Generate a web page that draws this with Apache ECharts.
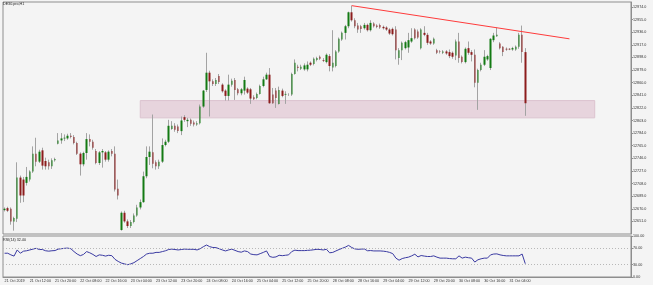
<!DOCTYPE html>
<html><head><meta charset="utf-8">
<script src="https://cdn.jsdelivr.net/npm/echarts@6/dist/echarts.min.js"></script>
<style>html,body{margin:0;padding:0;background:#f4f4f4}#c{width:653px;height:285px}</style>
</head><body><div id="c"></div>
<script>
const symbolLabel = 'DE30.pro,H1';
const rsiLabel = 'RSI(14) 32.40';
const xTickLabels = ['21 Oct 2019','21 Oct 12:00','21 Oct 20:00','22 Oct 08:00','22 Oct 16:00','23 Oct 04:00','23 Oct 12:00','23 Oct 20:00','24 Oct 08:00','24 Oct 16:00','25 Oct 04:00','25 Oct 12:00','25 Oct 20:00','28 Oct 08:00','28 Oct 16:00','29 Oct 04:00','29 Oct 12:00','29 Oct 20:00','30 Oct 08:00','30 Oct 16:00','31 Oct 04:00'];
const priceTicks = [12651,12670,12689,12708,12727,12746,12765,12784,12803,12822,12841,12860,12879,12898,12917,12936,12955,12974];
const rsiTicks = [0,30,70,100];
const rsiLevels = [70,30];
const open = [12668,12671,12670,12651,12655,12717,12714,12709,12714,12726,12753,12741,12758,12742,12740,12734,12743,12768,12773,12776,12776,12780,12778,12769,12753,12737,12754,12775,12771,12757,12739,12755,12755,12744,12757,12753,12700,12638,12664,12651,12644,12650,12660,12672,12680,12719,12748,12755,12740,12734,12741,12766,12771,12790,12795,12794,12787,12808,12802,12804,12800,12797,12799,12824,12849,12875,12862,12858,12870,12857,12848,12840,12857,12864,12850,12844,12848,12851,12850,12838,12837,12843,12855,12865,12872,12842,12848,12828,12848,12842,12842,12842,12873,12884,12881,12880,12880,12890,12888,12894,12899,12894,12891,12900,12883,12885,12907,12925,12935,12945,12966,12954,12946,12945,12942,12947,12939,12949,12946,12947,12944,12943,12940,12941,12940,12897,12909,12912,12913,12922,12940,12937,12912,12935,12932,12922,12919,12909,12907,12905,12907,12906,12905,12901,12922,12899,12891,12912,12906,12902,12860,12879,12887,12895,12882,12924,12930,12919,12914,12911,12911,12910,12910,12914,12932,12906];
const close = [12670,12667,12651,12656,12717,12690,12690,12718,12726,12753,12741,12756,12735,12734,12734,12743,12745,12773,12776,12777,12780,12778,12769,12753,12737,12754,12775,12771,12762,12739,12755,12757,12744,12756,12753,12699,12690,12664,12651,12644,12650,12660,12672,12680,12719,12748,12756,12738,12734,12741,12766,12771,12795,12795,12789,12787,12803,12804,12804,12798,12797,12799,12824,12848,12875,12862,12858,12864,12861,12847,12840,12857,12863,12849,12844,12850,12864,12845,12836,12835,12843,12855,12865,12872,12829,12829,12837,12849,12840,12843,12842,12873,12890,12882,12884,12886,12887,12887,12896,12897,12896,12893,12902,12885,12890,12907,12926,12935,12945,12966,12954,12945,12940,12941,12947,12939,12950,12945,12944,12943,12942,12940,12934,12933,12909,12909,12920,12921,12924,12927,12927,12928,12940,12932,12920,12919,12926,12905,12906,12907,12904,12900,12899,12922,12897,12891,12911,12905,12902,12860,12879,12887,12899,12900,12926,12931,12932,12912,12906,12910,12910,12912,12914,12932,12906,12829];
const low = [12666,12665,12646,12637,12650,12679,12680,12705,12711,12724,12734,12739,12729,12729,12729,12730,12741,12767,12768,12772,12774,12776,12767,12751,12720,12734,12744,12764,12759,12737,12736,12732,12741,12741,12749,12696,12684,12637,12649,12641,12641,12648,12658,12669,12679,12716,12736,12731,12729,12730,12739,12764,12769,12789,12786,12784,12781,12801,12793,12795,12794,12795,12797,12822,12846,12809,12855,12855,12858,12845,12833,12833,12854,12834,12841,12841,12842,12843,12828,12834,12835,12842,12853,12864,12828,12828,12822,12827,12838,12828,12840,12840,12872,12877,12879,12878,12877,12885,12886,12892,12894,12891,12889,12877,12877,12883,12905,12923,12925,12942,12952,12942,12935,12935,12940,12937,12937,12943,12942,12941,12940,12938,12932,12931,12895,12887,12894,12910,12905,12920,12925,12926,12910,12930,12917,12917,12917,12903,12904,12903,12902,12897,12896,12894,12890,12889,12889,12902,12892,12853,12819,12877,12885,12893,12879,12921,12929,12910,12900,12908,12909,12908,12908,12911,12890,12810];
const high = [12672,12673,12672,12658,12740,12720,12718,12733,12728,12764,12777,12759,12762,12747,12744,12746,12747,12784,12784,12782,12783,12784,12781,12771,12755,12756,12784,12782,12774,12760,12757,12760,12757,12758,12760,12764,12714,12666,12667,12654,12653,12663,12676,12684,12726,12764,12764,12812,12743,12744,12776,12774,12804,12802,12799,12797,12809,12811,12807,12806,12803,12802,12827,12849,12905,12878,12865,12867,12873,12859,12850,12872,12866,12867,12852,12852,12869,12853,12852,12841,12845,12857,12869,12875,12882,12852,12852,12854,12851,12847,12844,12875,12895,12887,12887,12889,12892,12892,12898,12899,12901,12897,12904,12903,12939,12909,12928,12937,12947,12967,12976,12957,12950,12947,12950,12949,12954,12951,12948,12949,12946,12945,12942,12943,12945,12912,12922,12923,12935,12942,12942,12940,12942,12945,12935,12924,12928,12911,12909,12909,12909,12910,12907,12925,12935,12901,12913,12922,12909,12910,12881,12890,12909,12902,12927,12935,12943,12921,12915,12913,12912,12914,12916,12935,12946,12912];
const rsi = [58,58,54,51,66,58,63,64,66,68,
70,67,67,64,63,64,64.5,68,69,70,
70.5,69,62,56,52,55,62,59,55,50,
54,53,51,53,52,43,38,34,32,30,
32,35,40,45,50,56,58,58,60,60,
62,64,67,68,67,66,67,68,67.6,67.5,
67.5,66,69,74,78,74,72,71.6,69,66,
63.6,66,68,65,62,60.5,63.6,62,56,54.5,
54,57,60,63.6,50,48,49,53,52,53,
54,62,65.5,64.4,64.4,64.4,65,65.5,66.5,67.6,
67,66,67.6,59,60,63.6,67,70,73,77,
72,68.5,67.6,68,68.4,64,64.5,63.6,63.6,63.6,
63,62,60,57,46,41,45,47,48.4,51.6,
55.6,49,52.4,51,50,50,51.6,48.4,46,46,
46,45,44.4,44.4,51.6,46,48.4,47,46,36.4,
42,44.4,46,46,54,56,56.4,54,52.5,51.6,
51.6,51.6,51.6,51.6,56,32.4];
const zone = {from: 43, to: 187, low: 12807, high: 12833};
const trend = [[110, 12976], [179, 12926]];

const N = 199;
const cats = Array.from({length: N}, (_, i) => String(i));
const wickData = open.map((o, i) => [o, close[i], low[i], high[i]]);
const bodyData = open.map((o, i) => [o, close[i], Math.min(o, close[i]), Math.max(o, close[i])]);
const showTick = (i) => i % 8 === 0 && (i / 8) < xTickLabels.length;
const FS = 3.7;
const FONT = 'Liberation Sans';
const frame = '#8e8e8e';

const chart = echarts.init(document.getElementById('c'), null, {renderer: 'canvas'});
chart.setOption({
  animation: false,
  backgroundColor: '#f4f4f4',
  textStyle: {fontFamily: FONT},
  title: [
    {text: symbolLabel, left: 3, top: 1.5, padding: 0, textStyle: {fontSize: FS, fontWeight: 'normal', color: '#222', fontFamily: FONT}},
    {text: rsiLabel, left: 3, top: 237.5, padding: 0, textStyle: {fontSize: FS, fontWeight: 'normal', color: '#222', fontFamily: FONT}}
  ],
  grid: [
    {left: 3, top: 2, width: 628, height: 232, show: true, borderColor: frame, borderWidth: 1, backgroundColor: 'transparent'},
    {left: 3, top: 236, width: 628, height: 41, show: true, borderColor: frame, borderWidth: 1, backgroundColor: 'transparent'}
  ],
  xAxis: [
    {type: 'category', gridIndex: 0, data: cats, boundaryGap: true, show: false},
    {type: 'category', gridIndex: 1, data: cats, boundaryGap: true,
     axisLine: {lineStyle: {color: frame}},
     axisTick: {alignWithLabel: true, interval: showTick, length: 2, lineStyle: {color: frame}},
     axisLabel: {interval: showTick, formatter: (v, i) => showTick(i) ? xTickLabels[i / 8] : '', align: 'left', fontSize: FS, color: '#333', margin: 2, fontFamily: FONT},
     splitLine: {show: false}}
  ],
  yAxis: [
    {type: 'value', gridIndex: 0, position: 'right', min: 12632, max: 12981.5,
     axisLine: {show: true, lineStyle: {color: frame}},
     axisTick: {show: true, length: 2, customValues: priceTicks, lineStyle: {color: frame}},
     axisLabel: {customValues: priceTicks, formatter: v => Number(v).toFixed(1), fontSize: FS, color: '#333', margin: 2, fontFamily: FONT},
     splitLine: {show: false}},
    {type: 'value', gridIndex: 1, position: 'right', min: 0, max: 100,
     axisLine: {show: true, lineStyle: {color: frame}},
     axisTick: {show: true, length: 2, customValues: rsiTicks, lineStyle: {color: frame}},
     axisLabel: {customValues: rsiTicks, formatter: v => Number(v).toFixed(2), fontSize: FS, color: '#333', margin: 2, fontFamily: FONT},
     splitLine: {show: false}}
  ],
  series: [
    {name: 'wicks', type: 'candlestick', xAxisIndex: 0, yAxisIndex: 0, data: wickData, barWidth: 1,
     itemStyle: {color: '#a3a3a3', color0: '#a3a3a3', borderColor: '#a3a3a3', borderColor0: '#a3a3a3', borderColorDoji: '#a3a3a3', borderWidth: 1},
     emphasis: {disabled: true}, silent: true,
     markArea: {silent: true, itemStyle: {color: '#e7d4dd', borderColor: '#dcc3cf', borderWidth: 1},
       data: [[{xAxis: zone.from, yAxis: zone.high}, {xAxis: zone.to, yAxis: zone.low}]]},
     markLine: {silent: true, symbol: 'none', label: {show: false}, lineStyle: {color: '#ff3b3b', width: 1, type: 'solid'},
       data: [[{coord: trend[0]}, {coord: trend[1]}]]}
    },
    {name: 'bodies', type: 'candlestick', xAxisIndex: 0, yAxisIndex: 0, data: bodyData, barWidth: 2, z: 3,
     itemStyle: {color: '#137a13', color0: '#8c1c1c', borderColor: '#137a13', borderColor0: '#8c1c1c', borderColorDoji: '#9a9a9a', borderWidth: 0},
     emphasis: {disabled: true}, silent: true},
    {name: 'RSI', type: 'line', xAxisIndex: 1, yAxisIndex: 1, data: rsi, symbol: 'none',
     lineStyle: {color: '#3a3aa2', width: 1}, itemStyle: {color: '#3a3aa2'}, silent: true,
     markLine: {silent: true, symbol: 'none', label: {show: false}, lineStyle: {color: '#b8b8b8', width: 1, type: [1, 2]},
       data: rsiLevels.map(v => ({yAxis: v}))}
    }
  ]
});
</script>
</body></html>
